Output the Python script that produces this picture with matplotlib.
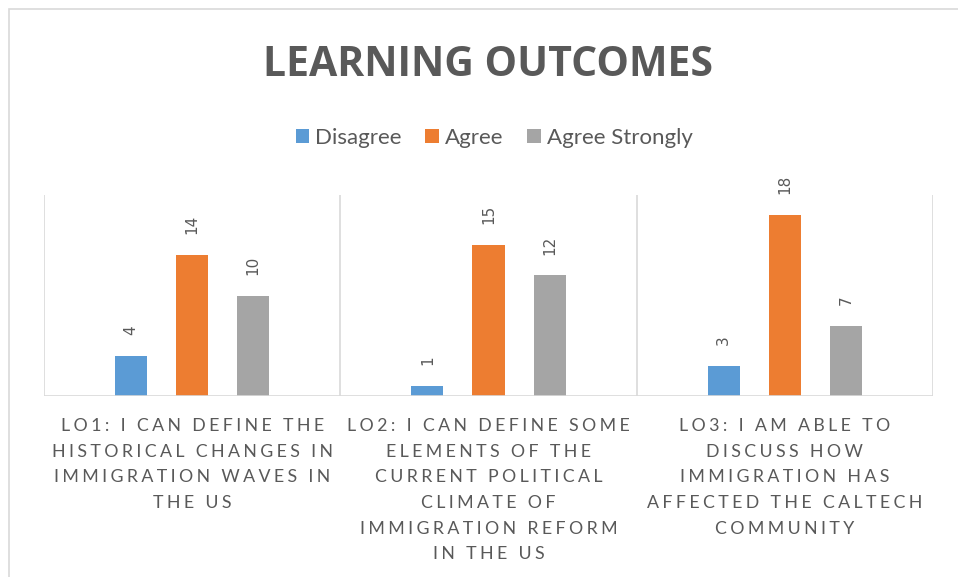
import matplotlib.pyplot as plt
from matplotlib.patches import Rectangle
import numpy as np

categories = [
    "LO1: I CAN DEFINE THE\nHISTORICAL CHANGES IN\nIMMIGRATION WAVES IN\nTHE US",
    "LO2: I CAN DEFINE SOME\nELEMENTS OF THE\nCURRENT POLITICAL\nCLIMATE OF\nIMMIGRATION REFORM\nIN THE US",
    "LO3: I AM ABLE TO\nDISCUSS HOW\nIMMIGRATION HAS\nAFFECTED THE CALTECH\nCOMMUNITY",
]
series_names = ["Disagree", "Agree", "Agree Strongly"]
disagree = [4, 1, 3]
agree = [14, 15, 18]
agree_strongly = [10, 12, 7]

colors = ["#5B9BD5", "#ED7D31", "#A5A5A5"]
text_gray = "#595959"
line_gray = "#D9D9D9"


def spaced(s, gap="\u2009\u200a"):
    # fake letter spacing, a narrow space between every character
    return "\n".join(gap.join(line) for line in s.split("\n"))


fig = plt.figure(figsize=(9.58, 5.77), dpi=100)
fig.patches.append(Rectangle((9 / 958, -0.1), 1.2, 1 - 9 / 577 + 0.1,
                             transform=fig.transFigure, fill=False,
                             edgecolor=line_gray, linewidth=1.2))

ax = fig.add_axes([44 / 958, 1 - 396 / 577, (933 - 44) / 958, (396 - 195) / 577])
x = np.arange(len(categories))
offsets = [-0.206, 0, 0.206]
width = 0.108
for vals, name, col, off in zip([disagree, agree, agree_strongly], series_names, colors, offsets):
    bars = ax.bar(x + off, vals, width, color=col, label=name, zorder=2)
    for b, v in zip(bars, vals):
        ax.annotate(str(v), (b.get_x() + b.get_width() / 2, v), xytext=(0, 15),
                    textcoords="offset points", rotation=90, ha="center", va="bottom",
                    fontsize=11, color=text_gray, family="DejaVu Sans")

ax.set_xlim(-0.5, 2.5)
ax.set_ylim(0, 20)
ax.vlines([-0.5, 0.5, 1.5, 2.5], 0, 20, color=line_gray, linewidth=1.2, zorder=1)
ax.axhline(0, color=line_gray, linewidth=1.2, zorder=3)
for s in ax.spines.values():
    s.set_visible(False)
ax.set_xticks([])
ax.set_yticks([])

for i, cat in enumerate(categories):
    ax.text(i, -0.11, spaced(cat), transform=ax.get_xaxis_transform(), ha="center", va="top",
            fontsize=12.8, color=text_gray, linespacing=1.74, family=["Lato", "DejaVu Sans"])

fig.text(488 / 958, 1 - 65 / 577, "LEARNING OUTCOMES", ha="center", va="center",
         fontsize=29.5, fontweight="bold", color=text_gray, family="Open Sans")

leg = fig.legend(loc="center", bbox_to_anchor=(494 / 958, 1 - 138 / 577), ncol=3, frameon=False,
                 prop={"family": "Lato", "size": 16}, handlelength=0.62, handleheight=0.62,
                 handletextpad=0.25, columnspacing=1.08)
for t in leg.get_texts():
    t.set_color(text_gray)

fig.savefig("out.png", dpi=100)
